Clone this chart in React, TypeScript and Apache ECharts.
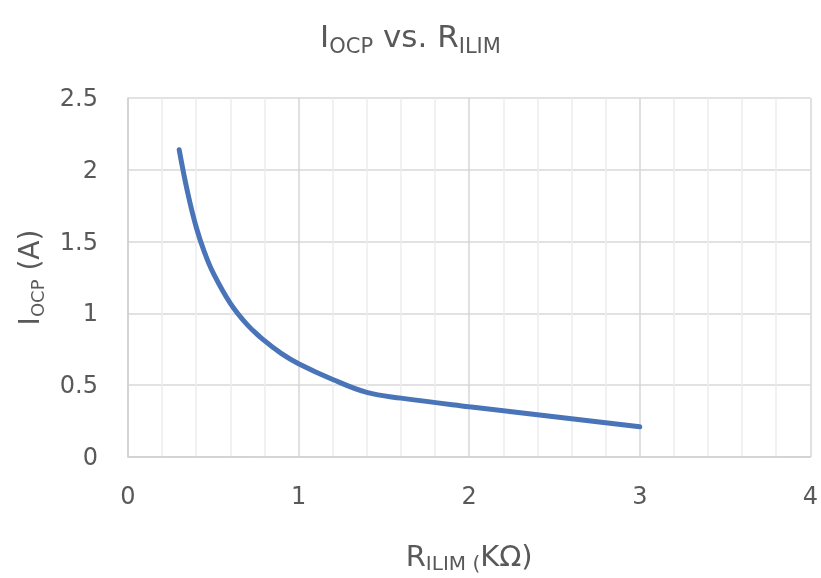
import React, { useEffect, useRef } from "react";
import * as echarts from "echarts";

const rIlim = [0.3, 0.35, 0.4, 0.45, 0.5, 0.6, 0.7, 0.8, 0.9, 1.0, 1.2, 1.4, 1.6, 2.0, 2.5, 3.0];
const iOcp = [2.14, 1.84, 1.6, 1.42, 1.28, 1.07, 0.92, 0.81, 0.72, 0.65, 0.54, 0.45, 0.41, 0.35, 0.28, 0.21];

const xTicks = [0, 1, 2, 3, 4];
const yTicks = [0, 0.5, 1, 1.5, 2, 2.5];

const FONT = "'DejaVu Sans', sans-serif";
const TXT = "#595959";

const rich = (main: number, sub: number, lh: number) => ({
  a: { fontSize: main, color: TXT, fontFamily: FONT, fontWeight: "normal", lineHeight: lh },
  b: { fontSize: sub, color: TXT, fontFamily: FONT, fontWeight: "normal", lineHeight: sub, verticalAlign: "bottom" },
});

export default function App() {
  const ref = useRef<HTMLDivElement>(null);
  useEffect(() => {
    if (!ref.current) return;
    const chart = echarts.init(ref.current, undefined, { renderer: "svg" });
    const data = rIlim.map((r, i) => [r, iOcp[i]]);
    chart.setOption({
      animation: false,
      title: {
        text: "{a|I}{b|OCP}{a| vs. R}{b|ILIM}",
        left: "center",
        top: 11,
        textStyle: { fontFamily: FONT, fontWeight: "normal", rich: rich(31, 21, 40) },
      },
      grid: { left: 128, right: 10, top: 98, bottom: 120, containLabel: false },
      xAxis: {
        type: "value",
        min: xTicks[0],
        max: xTicks[xTicks.length - 1],
        interval: 1,
        name: "{a|R}{b|ILIM (}{a|KΩ)}",
        nameLocation: "middle",
        nameGap: 82,
        nameTextStyle: { fontFamily: FONT, rich: rich(29, 20, 34) },
        axisLine: { show: true, lineStyle: { color: "#d0d0d0", width: 1.5 } },
        axisTick: { show: false },
        axisLabel: { color: TXT, fontSize: 24, fontFamily: FONT, margin: 27 },
        splitLine: { show: true, lineStyle: { color: "#d6d6d6", width: 1.5 } },
        minorTick: { show: false, splitNumber: 5 },
        minorSplitLine: { show: true, lineStyle: { color: "#ececec", width: 1.5 } },
      },
      yAxis: {
        type: "value",
        min: yTicks[0],
        max: yTicks[yTicks.length - 1],
        interval: 0.5,
        name: "{a|I}{b|OCP}{a| (A)}",
        nameLocation: "middle",
        nameRotate: 90,
        nameGap: 82,
        nameTextStyle: { fontFamily: FONT, rich: rich(28, 18, 34) },
        axisLine: { show: true, lineStyle: { color: "#d0d0d0", width: 1.5 } },
        axisTick: { show: false },
        axisLabel: { color: TXT, fontSize: 24, fontFamily: FONT, margin: 30 },
        splitLine: { show: true, lineStyle: { color: "#d9d9d9", width: 1.5 } },
      },
      series: [
        {
          type: "line",
          data,
          smooth: 0.4,
          showSymbol: false,
          symbol: "none",
          lineStyle: { color: "#4A74B8", width: 5, cap: "round" },
        },
      ],
    });
    return () => chart.dispose();
  }, []);
  return (
    <div
      ref={ref}
      style={{ position: "fixed", left: 0, top: 0, width: 821, height: 578 }}
    />
  );
}
